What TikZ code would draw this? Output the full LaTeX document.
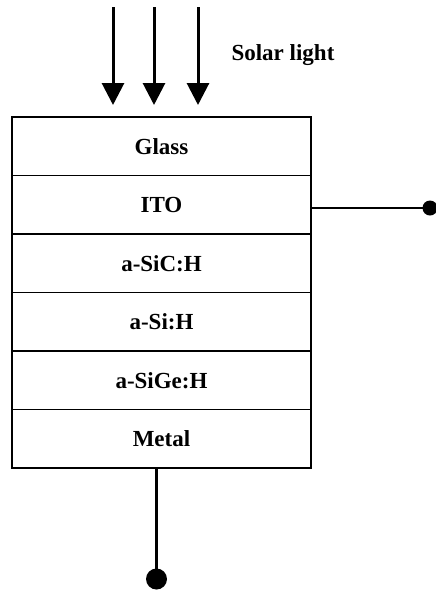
\documentclass[tikz,border=0pt]{standalone}
\usepackage{fontspec}
\setmainfont{Liberation Serif}
\usetikzlibrary{arrows.meta,positioning}

\tikzset{
	layer/.style={draw, line width=1.8pt, minimum width=299pt, minimum height=58.5pt,
		inner sep=0pt, outer sep=0pt, font=\fontsize{23}{26}\selectfont\bfseries},
	ray/.style={line width=3pt, -{Triangle[width=22pt,length=22pt]}},
	wire/.style={line width=2.6pt},
}

\begin{document}
\begin{tikzpicture}[x=1pt,y=-1pt]

		\useasboundingbox (0,0) rectangle (436,590);

		\node [layer] (glass) at (161.5,146.25) {Glass};
		\node [layer, below=0pt of glass] (ito) {ITO};
		\node [layer, below=0pt of ito] (sic) {a-SiC:H};
		\node [layer, below=0pt of sic] (si) {a-Si:H};
		\node [layer, below=0pt of si] (sige) {a-SiGe:H};
		\node [layer, below=0pt of sige] (metal) {Metal};

		% incoming light
		\foreach \x in {113,154,198}
			\draw [ray] (\x,7) -- (\x,105);
		\node [font=\fontsize{23}{26}\selectfont\bfseries] (sun) at (283,55) {Solar light};

		% contacts
		\coordinate (top) at (430,208);
		\coordinate (bot) at (156.5,579);
		\draw [wire] (ito.east |- top) -- (top);
		\draw [wire] (metal.south -| bot) -- (bot);
		\fill (top) circle (7.5);
		\fill (bot) circle (10.5);

\end{tikzpicture}
\end{document}
